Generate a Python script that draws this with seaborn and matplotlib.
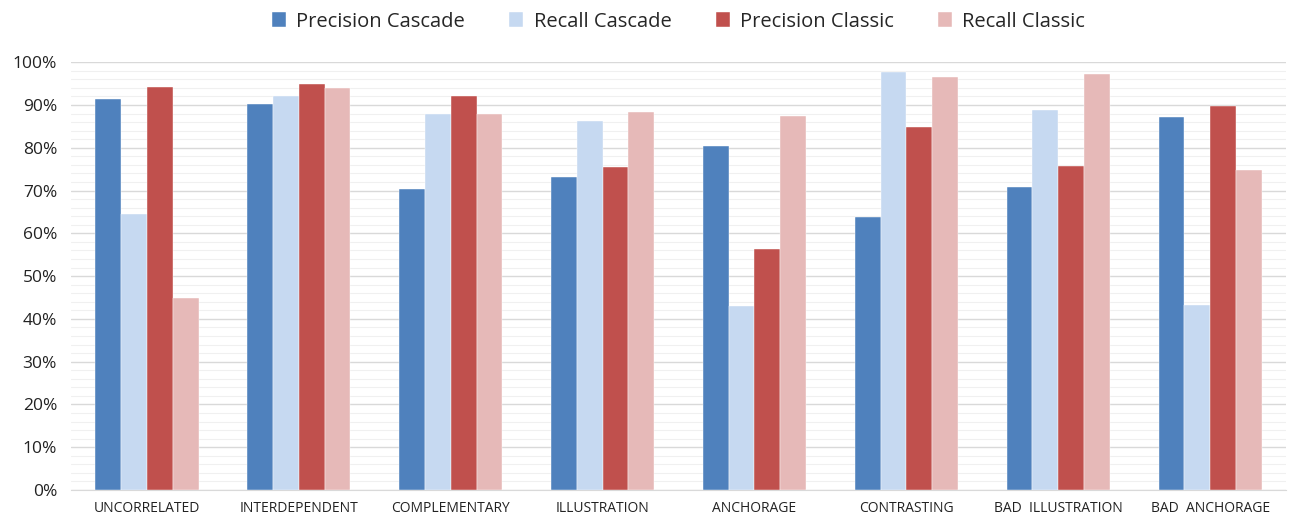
import numpy as np
import pandas as pd
import matplotlib.pyplot as plt
import seaborn as sns
from matplotlib.ticker import MultipleLocator, PercentFormatter

categories = ['UNCORRELATED', 'INTERDEPENDENT', 'COMPLEMENTARY', 'ILLUSTRATION',
              'ANCHORAGE', 'CONTRASTING', 'BAD  ILLUSTRATION', 'BAD  ANCHORAGE']
precision_cascade = [91.4, 90.2, 70.4, 73.1, 80.4, 63.8, 70.8, 87.2]
recall_cascade = [64.4, 92.0, 87.9, 86.3, 43.1, 97.8, 88.8, 43.2]
precision_classic = [94.3, 95.0, 92.1, 75.6, 56.4, 84.9, 75.8, 89.8]
recall_classic = [44.9, 93.9, 87.9, 88.3, 87.4, 96.6, 97.2, 74.7]

series = ['Precision Cascade', 'Recall Cascade', 'Precision Classic', 'Recall Classic']
colors = ['#4F81BD', '#C6D9F1', '#C0504D', '#E6B9B8']

df = pd.DataFrame({
    'category': categories * 4,
    'series': [s for s in series for _ in categories],
    'value': precision_cascade + recall_cascade + precision_classic + recall_classic,
})

sns.set_style('white')
plt.rcParams['font.family'] = ['Open Sans', 'DejaVu Sans']

fig = plt.figure(figsize=(12.9, 5.18), dpi=100)
ax = fig.add_axes([0.055, 0.054, 0.942, 0.826])

sns.barplot(data=df, x='category', y='value', hue='series', order=categories,
            hue_order=series, palette=colors, width=0.68, saturation=1,
            edgecolor='white', linewidth=0.3, ax=ax, zorder=3)

ax.set_ylim(0, 100)
ax.set_xlim(-0.5, len(categories) - 0.5)
ax.yaxis.set_major_locator(MultipleLocator(10))
ax.yaxis.set_minor_locator(MultipleLocator(2))
ax.yaxis.set_major_formatter(PercentFormatter(decimals=0))
ax.grid(axis='y', which='major', color='#D9D9D9', linewidth=1.0, zorder=0)
ax.grid(axis='y', which='minor', color='#F0F0F0', linewidth=0.8, zorder=0)
ax.set_axisbelow(True)
for s in ['top', 'right', 'left']:
    ax.spines[s].set_visible(False)
ax.spines['bottom'].set_color('#D9D9D9')
ax.tick_params(axis='y', labelsize=12.5, length=0, pad=10, colors='#222222')
ax.tick_params(axis='x', labelsize=10, length=0, pad=8, colors='#222222')
ax.set_xlabel('')
ax.set_ylabel('')

ax.legend(loc='center', bbox_to_anchor=(0.5, 1.095), ncol=4, frameon=False,
          fontsize=14.5, handlelength=0.7, handleheight=0.7, columnspacing=2.2,
          handletextpad=0.5)

plt.savefig('out.png', dpi=100)
